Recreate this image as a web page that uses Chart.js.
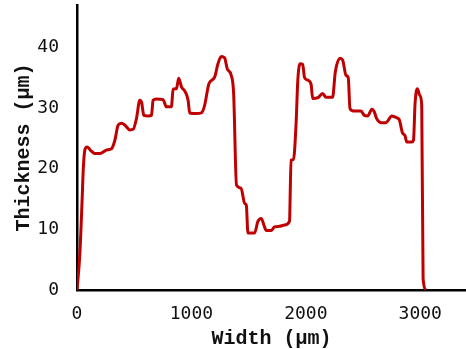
<!DOCTYPE html>
<html>
<head>
<meta charset="utf-8">
<script src="https://cdn.jsdelivr.net/npm/chart.js@4"></script>
<style>
  html, body { margin: 0; padding: 0; background: #fff; }
  #wrap { width: 466px; height: 349px; }
</style>
</head>
<body>
<div id="wrap"><canvas id="myChart" width="466" height="349"></canvas></div>
<script>
// profile (width in µm, thickness in µm)
let widths = [0, 25, 45, 55, 70, 90, 120, 157, 200, 259,
    302, 331, 360, 389, 418, 462, 491, 520, 549, 564,
    584, 622, 651, 665, 694, 752, 782, 825, 840, 869,
    889, 913, 942, 971, 985, 1043, 1087, 1116, 1153, 1203,
    1232, 1261, 1290, 1313, 1348, 1369, 1394, 1434, 1465, 1480,
    1494, 1552, 1581, 1610, 1639, 1653, 1697, 1726, 1770, 1813,
    1857, 1871, 1892, 1915, 1930, 1950, 1973, 1988, 2017, 2046,
    2060, 2104, 2147, 2176, 2234, 2258, 2299, 2322, 2351, 2371,
    2386, 2424, 2482, 2511, 2540, 2578, 2598, 2618, 2657, 2700,
    2752, 2781, 2816, 2845, 2866, 2883, 2926, 2941, 2955, 2975,
    2996, 3013, 3025, 3049]
let thickness = [0, 6, 15, 20, 23.2, 23.6, 23.0, 22.5, 22.5, 23.1,
    23.3, 24.7, 27.2, 27.5, 27.2, 26.4, 26.5, 28.3, 31.3, 31.0,
    28.8, 28.7, 28.8, 31.3, 31.5, 31.4, 30.2, 30.2, 33.1, 33.2,
    34.9, 33.5, 32.8, 31.3, 29.2, 29.1, 29.2, 30.5, 34.0, 35.1,
    37.3, 38.5, 38.3, 36.5, 35.4, 32.4, 17.3, 16.8, 14.3, 14.0,
    9.4, 9.4, 11.3, 11.8, 10.4, 9.8, 9.8, 10.4, 10.5, 10.7,
    11.3, 21.4, 21.5, 27.5, 34.6, 37.3, 37.2, 35.1, 34.6, 33.9,
    31.6, 31.7, 32.4, 31.8, 31.8, 36.0, 38.2, 37.9, 35.4, 35.0,
    29.9, 29.5, 29.5, 28.8, 28.7, 29.8, 29.4, 28.3, 27.6, 27.6,
    28.7, 28.5, 28.1, 25.9, 25.5, 24.4, 24.4, 24.7, 30.8, 33.2,
    32.1, 30.5, 1.9, 0]
let x_ticks = [0, 1000, 2000, 3000]
let y_ticks = [0, 10, 20, 30, 40]

let pontos = widths.map((w, i) => ({ x: w, y: thickness[i] }))

const tickFont = { family: 'DejaVu Sans Mono', size: 18 }
const titleFont = { family: 'Liberation Mono', size: 20, weight: 'bold' }

const ctx = document.getElementById('myChart').getContext('2d');
const myChart = new Chart(ctx, {
    type: 'line',
    data: {
        datasets: [{
            data: pontos,
            borderColor: '#c00000',
            borderWidth: 3,
            pointRadius: 0,
            fill: false,
            cubicInterpolationMode: 'monotone'
        }]
    },
    options: {
        responsive: false,
        animation: false,
        layout: { padding: { top: 5, right: 0, left: 0, bottom: 0 } },
        plugins: { legend: { display: false }, tooltip: { enabled: false } },
        scales: {
            x: {
                type: 'linear',
                min: 0,
                max: 3400,
                grid: { display: false },
                border: { display: true, color: '#000', width: 2.5 },
                afterBuildTicks: s => { s.ticks = x_ticks.map(v => ({ value: v })) },
                afterFit: s => { s.height = 59; s.paddingLeft = 0; s.paddingRight = 0 },
                ticks: { color: '#111', font: tickFont, padding: 6, maxRotation: 0, callback: v => String(v) },
                title: { display: true, text: 'Width (µm)', color: '#111', font: { ...titleFont, lineHeight: 1 }, padding: { top: 0, bottom: 0 } }
            },
            y: {
                min: 0,
                max: 47,
                grid: { display: false },
                border: { display: true, color: '#000', width: 2.5 },
                afterBuildTicks: s => { s.ticks = y_ticks.map(v => ({ value: v })) },
                afterFit: s => { s.width = 77; s.paddingTop = 0; s.paddingBottom = 0 },
                ticks: { color: '#111', font: tickFont, padding: 10, callback: v => String(v) },
                title: { display: true, text: 'Thickness (µm)', color: '#111', font: titleFont, padding: { top: 12, bottom: 0 } }
            }
        }
    }
});
</script>
</body>
</html>
